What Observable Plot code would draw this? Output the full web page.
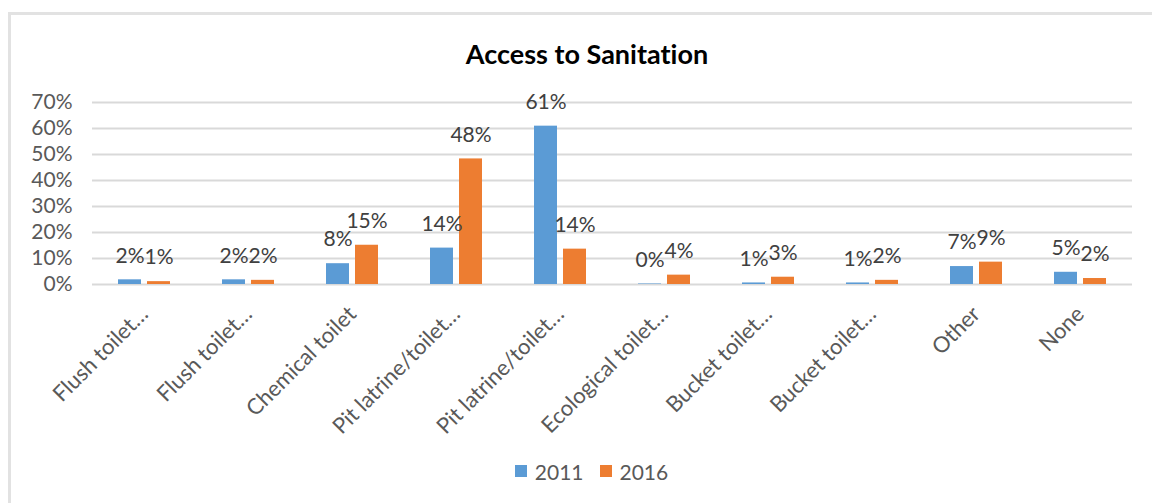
<!DOCTYPE html>
<html><head><meta charset="utf-8">
<script src="https://cdn.jsdelivr.net/npm/d3@7"></script>
<script src="https://cdn.jsdelivr.net/npm/@observablehq/plot@0.6"></script>
<style>
html,body{margin:0;padding:0;background:#fff;overflow:hidden;width:1152px;height:503px;font-family:Lato, "Open Sans", sans-serif;font-variant-ligatures:none;}
#wrap{position:relative;width:1152px;height:503px;overflow:hidden;background:#fff;}
#hline{position:absolute;left:8px;top:12px;width:1144px;height:3px;background:#e2e2e2;}
#vline{position:absolute;left:8px;top:12px;width:3px;height:491px;background:#e2e2e2;}
#title{position:absolute;left:0;width:1152px;padding-left:22px;box-sizing:border-box;top:36px;text-align:center;font-weight:bold;font-size:27px;color:#000;line-height:36px;white-space:nowrap;}
#chart{position:absolute;left:0;top:80px;width:1152px;}
#chart svg text{font-variant-ligatures:none;}
#legend{position:absolute;left:0;width:1152px;padding-left:31px;box-sizing:border-box;top:456px;height:30px;display:flex;justify-content:center;align-items:center;font-size:21px;color:#595959;}
#legend .sw{display:inline-block;width:12px;height:12px;margin-right:8px;}
#legend .item{display:flex;align-items:center;margin:0 8px;}
</style>
</head><body>
<div id="wrap">
<div id="hline"></div>
<div id="vline"></div>
<div id="title">Access to Sanitation</div>
<div id="chart"></div>
<div id="legend"></div>
</div>
<script>
const categories = ["Flush toilet…","Flush toilet…","Chemical toilet","Pit latrine/toilet…","Pit latrine/toilet…","Ecological toilet…","Bucket toilet…","Bucket toilet…","Other","None"];
const years = ["2011","2016"];
const values2011 = [1.8,1.8,8.0,14.0,60.9,0.2,0.6,0.6,6.9,4.7];
const values2016 = [1.1,1.6,15.1,48.3,13.6,3.6,2.8,1.6,8.6,2.3];
const yTicks = [0,10,20,30,40,50,60,70];
const colors = ["#5b9bd5","#ed7d31"];

const data = categories.flatMap((c,i) => years.map((y,j) => ({idx:i, year:y, value: j===0 ? values2011[i] : values2016[i]})));

const chart = Plot.plot({
  width:1152, height:370,
  marginTop:22, marginBottom:166, marginLeft:88, marginRight:17,
  style:{fontFamily:"Lato, 'Open Sans', sans-serif", fontSize:"21px", color:"#595959", background:"transparent"},
  fx:{domain:d3.range(categories.length), padding:0, label:null},
  x:{domain:years, paddingInner:0.203, paddingOuter:0.872, axis:null},
  y:{domain:[0,70], label:null},
  color:{domain:years, range:colors},
  marks:[
    Plot.gridY(yTicks, {stroke:"#d9d9d9", strokeOpacity:1, strokeWidth:2}),
    Plot.axisY(yTicks, {tickSize:0, tickPadding:20, tickFormat:d => d + "%", label:null, fill:"#595959", fontSize:21}),
    Plot.axisFx({anchor:"bottom", tickRotate:-45, tickSize:0, tickPadding:26, tickFormat:i => categories[i], label:null, fill:"#595959", fontSize:22}),
    Plot.barY(data, {fx:"idx", x:"year", y:"value", fill:"year"}),
    Plot.text(data, {fx:"idx", x:"year", y:"value", text:d => Math.round(d.value) + "%", dy:-24, fill:"#404040", fontSize:21})
  ]
});
document.getElementById("chart").appendChild(chart);

const legend = document.getElementById("legend");
years.forEach((y,i) => {
  const it = document.createElement("span");
  it.className = "item";
  it.innerHTML = `<span class="sw" style="background:${colors[i]}"></span>${y}`;
  legend.appendChild(it);
});
</script>
</body></html>
